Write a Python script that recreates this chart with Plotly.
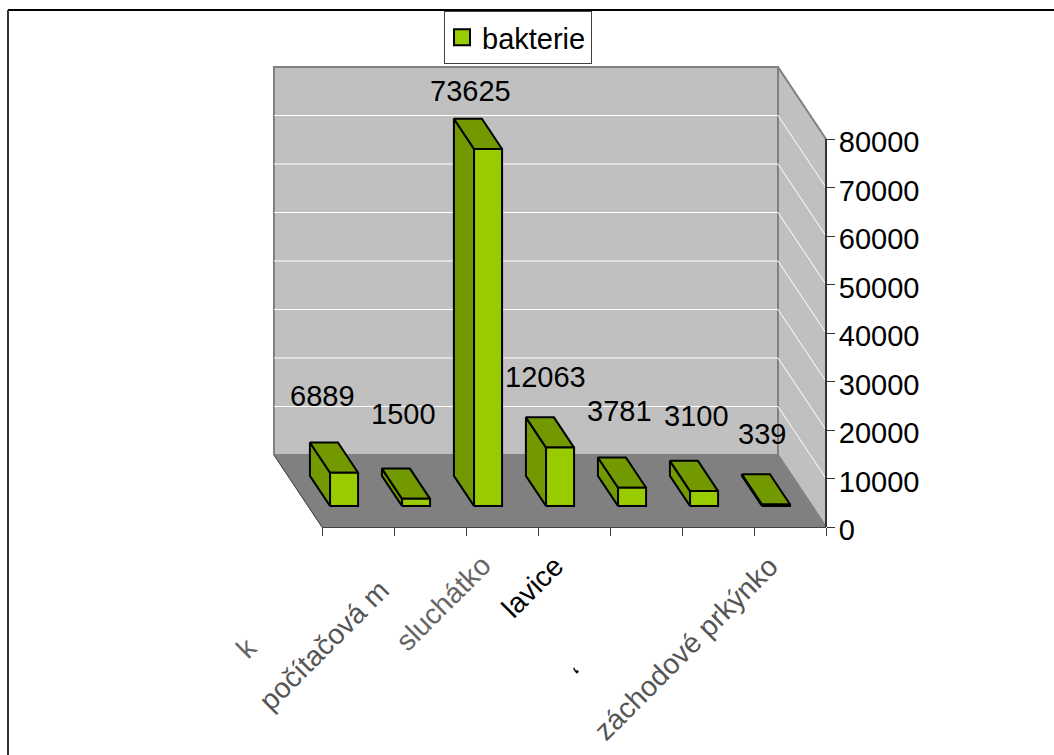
import plotly.graph_objects as go

# Bacteria counts per surface
values = [6889, 1500, 73625, 12063, 3781, 3100, 339]
series_name = "bakterie"
category_labels = ["k", "počítačová m", "sluchátko", "lavice", "‘", "", "záchodové prkýnko"]
axis_ticks = [0, 10000, 20000, 30000, 40000, 50000, 60000, 70000, 80000]

# Page and axis geometry, in pixels
W, H = 1054, 755
AXIS_LEFT, AXIS_RIGHT = 322, 826
AXIS_BOTTOM, AXIS_TOP = 527, 139
N = len(values)
AXIS_MAX = axis_ticks[-1]
PX_PER_CAT = (AXIS_RIGHT - AXIS_LEFT) / N
PX_PER_VAL = (AXIS_BOTTOM - AXIS_TOP) / AXIS_MAX

# Oblique projection: going one unit into the box moves left and up
DEPTH_X = 48 / PX_PER_CAT
DEPTH_Y = 72 / PX_PER_VAL
BAR_WIDTH = 28 / PX_PER_CAT
BAR_NEAR, BAR_FAR = 0.29, 0.71

FRONT = "#99CC00"
SHADE = "#739900"
WALL = "#C0C0C0"
FLOOR = "#808080"
EDGE = "#808080"
FONT = "Liberation Sans, Arial, sans-serif"

# Pixel nudges of the text relative to the point it belongs to
value_label_shift = [(-12, 62), (-3, 70), (-8, 43), (-5, 55), (-3, 62), (2, 60), (-4, 55)]
category_label_shift = [(-112, -121), (-106, -118), (-59, -76), (-42, -60), (-66, -148), (0, 0), (-104, -121)]
category_label_color = ["#666666", "#555555", "#666666", "#000000", "#000000", "#000000", "#555555"]


def project(cat, depth, value):
    return cat - depth * DEPTH_X, value + depth * DEPTH_Y


def polygon(points, fill, line_color, line_width):
    pts = [project(*p) for p in points]
    pts.append(pts[0])
    return go.Scatter(
        x=[p[0] for p in pts], y=[p[1] for p in pts],
        mode="lines", fill="toself", fillcolor=fill,
        line=dict(color=line_color, width=line_width),
        hoverinfo="skip", showlegend=False,
    )


def segment(points, color, width):
    pts = [project(*p) for p in points]
    return go.Scatter(
        x=[p[0] for p in pts], y=[p[1] for p in pts], mode="lines",
        line=dict(color=color, width=width), hoverinfo="skip", showlegend=False,
    )


fig = go.Figure()

# Box: back wall, side wall, floor
fig.add_trace(polygon([(0, 1, 0), (N, 1, 0), (N, 1, AXIS_MAX), (0, 1, AXIS_MAX)], WALL, EDGE, 2))
fig.add_trace(polygon([(N, 1, 0), (N, 0, 0), (N, 0, AXIS_MAX), (N, 1, AXIS_MAX)], WALL, EDGE, 2))
fig.add_trace(polygon([(0, 0, 0), (N, 0, 0), (N, 1, 0), (0, 1, 0)], FLOOR, FLOOR, 1))
fig.add_trace(segment([(0, 0, 0), (0, 1, 0)], "#404040", 1))

# Gridlines run along the back wall and down the side wall
for tick in axis_ticks[1:-1]:
    fig.add_trace(segment([(0, 1, tick), (N, 1, tick), (N, 0, tick)], "#FFFFFF", 1))

# Bars: left face, top face, front face
annotations = []
for i, v in enumerate(values):
    left = i + 0.5 - BAR_WIDTH / 2
    right = i + 0.5 + BAR_WIDTH / 2
    fig.add_trace(polygon([(left, BAR_NEAR, 0), (left, BAR_FAR, 0), (left, BAR_FAR, v), (left, BAR_NEAR, v)], SHADE, "#000000", 2))
    fig.add_trace(polygon([(left, BAR_NEAR, v), (left, BAR_FAR, v), (right, BAR_FAR, v), (right, BAR_NEAR, v)], SHADE, "#000000", 2))
    fig.add_trace(polygon([(left, BAR_NEAR, 0), (right, BAR_NEAR, 0), (right, BAR_NEAR, v), (left, BAR_NEAR, v)], FRONT, "#000000", 2))

    cx, cy = project(i + 0.5, 0.5, v)
    dx, dy = value_label_shift[i]
    annotations.append(dict(
        x=cx, y=cy, xref="x", yref="y", text=str(v), showarrow=False,
        xshift=dx, yshift=dy, xanchor="center", yanchor="middle",
        font=dict(family=FONT, size=29, color="#000000"),
    ))

    if category_labels[i]:
        dx, dy = category_label_shift[i]
        annotations.append(dict(
            x=i + 0.5, y=0, xref="x2", yref="y2", text=category_labels[i], showarrow=False,
            textangle=-45, xshift=dx, yshift=dy, xanchor="center", yanchor="middle",
            font=dict(family=FONT, size=28.5, color=category_label_color[i]),
        ))

# Legend entry for the series
fig.add_trace(go.Scatter(
    x=[None], y=[None], mode="markers", name=series_name,
    marker=dict(symbol="square", size=19, color=FRONT, line=dict(color="#000000", width=2)),
))

# Holder trace so the visible value axis always has a subplot
fig.add_trace(go.Scatter(x=[None], y=[None], xaxis="x2", yaxis="y2", showlegend=False, hoverinfo="skip"))

fig.update_layout(
    width=W, height=H,
    margin=dict(l=0, r=0, t=0, b=0, autoexpand=False),
    paper_bgcolor="#FFFFFF", plot_bgcolor="rgba(0,0,0,0)",
    hovermode=False,
    xaxis=dict(
        visible=False, domain=[0, 1],
        range=[-AXIS_LEFT / PX_PER_CAT, (W - AXIS_LEFT) / PX_PER_CAT],
    ),
    yaxis=dict(
        visible=False, domain=[0, 1],
        range=[(AXIS_BOTTOM - H) / PX_PER_VAL, AXIS_BOTTOM / PX_PER_VAL],
    ),
    xaxis2=dict(
        domain=[AXIS_LEFT / W, AXIS_RIGHT / W], range=[0, N], anchor="y2",
        tickmode="array", tickvals=list(range(N + 1)), showticklabels=False,
        ticks="outside", ticklen=8, tickwidth=1, tickcolor="#404040",
        showline=True, linecolor="#404040", linewidth=1, showgrid=False, zeroline=False,
    ),
    yaxis2=dict(
        domain=[1 - AXIS_BOTTOM / H, 1 - AXIS_TOP / H], range=[0, AXIS_MAX],
        anchor="free", position=AXIS_RIGHT / W, side="right",
        tickmode="array", tickvals=axis_ticks, ticktext=[str(t) for t in axis_ticks],
        ticks="outside", ticklen=8, tickwidth=1, tickcolor="#333333",
        showline=True, linecolor="#333333", linewidth=2, showgrid=False, zeroline=False,
        tickfont=dict(family=FONT, size=29, color="#000000"),
        ticklabelshift=3, ticklabelstandoff=-2,
    ),
    legend=dict(
        x=444 / W, y=1 - 11 / H, xanchor="left", yanchor="top",
        bgcolor="#FFFFFF", bordercolor="#404040", borderwidth=1, indentation=-3,
        font=dict(family=FONT, size=29, color="#000000"),
    ),
    showlegend=True,
    annotations=annotations,
    shapes=[
        dict(type="line", xref="paper", yref="paper", x0=8 / W, x1=1, y0=1 - 10 / H, y1=1 - 10 / H,
             line=dict(color="#000000", width=2)),
        dict(type="line", xref="paper", yref="paper", x0=8 / W, x1=8 / W, y0=1 - 10 / H, y1=0,
             line=dict(color="#333333", width=2)),
    ],
)

fig.write_html("out.html")
